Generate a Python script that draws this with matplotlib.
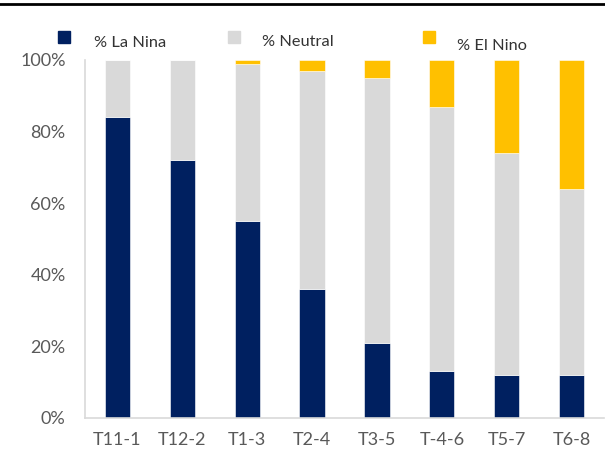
import numpy as np
import matplotlib
matplotlib.use("Agg")
import matplotlib.pyplot as plt
from matplotlib.patches import Rectangle
from matplotlib.lines import Line2D
from matplotlib.ticker import PercentFormatter

categories = ["T11-1", "T12-2", "T1-3", "T2-4", "T3-5", "T-4-6", "T5-7", "T6-8"]
la_nina = [84, 72, 55, 36, 21, 13, 12, 12]
neutral = [16, 28, 44, 61, 74, 74, 62, 52]
el_nino = [0, 0, 1, 3, 5, 13, 26, 36]

series_names = ["% La Nina", "% Neutral", "% El Nino"]
colors = ["#002060", "#D9D9D9", "#FFC000"]

plt.rcParams["font.family"] = ["Lato", "DejaVu Sans"]

fig = plt.figure(figsize=(6.05, 4.55), dpi=100)
ax = fig.add_axes([85 / 605, 1 - 418 / 455, 519 / 605, 358 / 455])

x = np.arange(len(categories))
bottom = np.zeros(len(categories))
for vals, col in zip([la_nina, neutral, el_nino], colors):
    ax.bar(x, vals, bottom=bottom, width=0.39, color=col, edgecolor="white", linewidth=0.4)
    bottom += np.array(vals)

ax.set_xlim(-0.5, len(categories) - 0.5)
ax.set_ylim(0, 100)
ax.set_yticks(range(0, 101, 20))
ax.yaxis.set_major_formatter(PercentFormatter(decimals=0))
ax.set_xticks(x)
ax.set_xticklabels(categories)
ax.tick_params(axis="both", length=0, labelsize=13, labelcolor="#595959")
ax.tick_params(axis="y", pad=14)
ax.tick_params(axis="x", pad=10)

for s in ["top", "right"]:
    ax.spines[s].set_visible(False)
for s in ["left", "bottom"]:
    ax.spines[s].set_color("#D9D9D9")
    ax.spines[s].set_linewidth(1.2)

# black rule at the very top
fig.add_artist(Line2D([0, 1], [1 - 4 / 455, 1 - 4 / 455], transform=fig.transFigure,
                      color="black", linewidth=2))

# legend, placed by hand
legend_pos = [(58, 94, 43), (228, 262, 42.5), (423, 457, 45.5)]
for name, col, (mx, tx, ty) in zip(series_names, colors, legend_pos):
    fig.add_artist(Rectangle((mx / 605, 1 - 43 / 455), 11.5 / 605, 12 / 455,
                             transform=fig.transFigure, color=col))
    fig.text(tx / 605, 1 - ty / 455, name, fontsize=11.8, color="#333333",
             va="center", ha="left")

fig.savefig("out.png", dpi=100)
